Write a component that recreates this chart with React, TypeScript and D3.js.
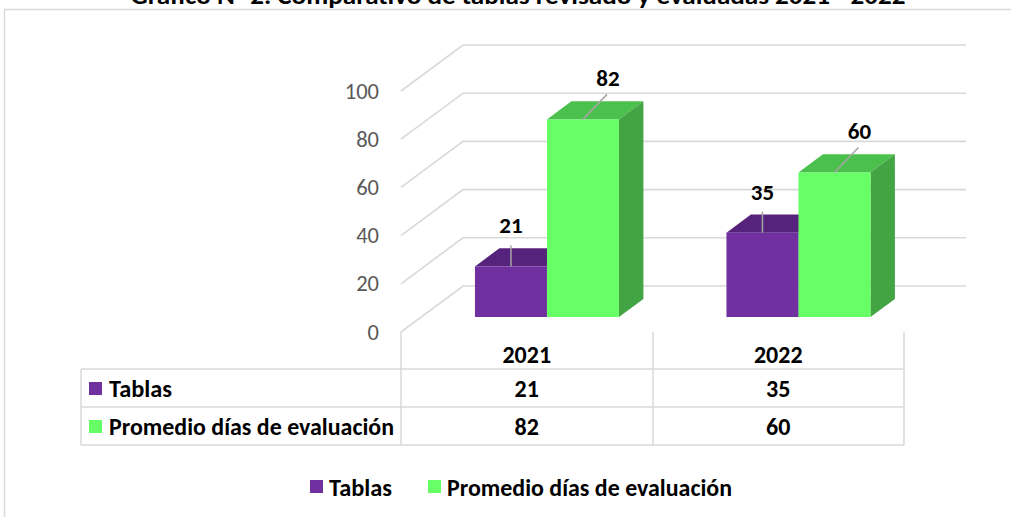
import React from "react";
import * as d3 from "d3";

const categories = ["2021", "2022"];
const seriesNames = ["Tablas", "Promedio días de evaluación"];
const tablas = [21, 35];
const promedio = [82, 60];
const yTicks = [0, 20, 40, 60, 80, 100];
const title = "Gráfico N° 2. Comparativo de tablas revisado y evaluadas 2021 - 2022";

const FONT = "Carlito, Calibri, Lato, 'Open Sans', sans-serif";
const colors = {
  front: ["#7030A0", "#66FF66"],
  top: ["#55237C", "#4CC04C"],
  side: ["#4B1F6E", "#43A443"],
};
const grid = "#d9d9d9";
const labelWidths = [63, 285];

export default function App() {
  const W = 1011, H = 517;
  const x0 = 401, x1 = 904, base = 332;
  const DX = 62, DY = 46;
  const dFront = 0.326, dBack = 0.72;
  const y = d3.scaleLinear().domain([0, 100]).range([0, 241]);
  const xCat = d3.scaleBand().domain(categories).range([x0, x1]);
  const xSer = d3.scaleBand().domain(seriesNames).range([-72, 72]);
  const proj = (x: number, v: number, d: number): [number, number] => [x + d * DX, base - d * DY - y(v)];
  const pts = (a: [number, number][]) => a.map((p) => p.join(",")).join(" ");
  const series = [tablas, promedio];

  const rowTop = [332, 369, 407, 445];
  const colX = [81, 401, 653, 904];

  return (
    <svg width={W} height={H} style={{ position: "absolute", left: 0, top: 0, background: "#fff" }} fontFamily={FONT}>
      <rect x={4.5} y={9.5} width={1012} height={520} fill="#fff" stroke={grid} strokeWidth={1.5} />
      <text x={518} y={4} textAnchor="middle" fontWeight="bold" fontSize={24} fill="#000" textLength={775} lengthAdjust="spacingAndGlyphs">{title}</text>

      {/* gridlines */}
      {yTicks.map((v) => {
        const a = proj(x0, v, 0), b = proj(x0, v, 1), c = proj(x1, v, 1);
        return <polyline key={v} points={pts([a, b, c])} fill="none" stroke={grid} strokeWidth={1.6} />;
      })}
      {yTicks.map((v) => (
        <text key={"l" + v} x={379} y={base - y(v)} textAnchor="end" dominantBaseline="central" fontSize={22.5} fill="#595959">{v}</text>
      ))}

      {/* bars */}
      {categories.map((cat, ci) => {
        const cx = (xCat(cat) as number) + xCat.bandwidth() / 2;
        return (
          <g key={cat}>
            {seriesNames.map((s, si) => {
              const v = series[si][ci];
              const xl = cx + (xSer(s) as number), xr = xl + xSer.bandwidth();
              const fTL = proj(xl, v, dFront), fTR = proj(xr, v, dFront);
              const bTL = proj(xl, v, dBack), bTR = proj(xr, v, dBack);
              const fBR = proj(xr, 0, dFront), bBR = proj(xr, 0, dBack);
              const fBL = proj(xl, 0, dFront);
              return (
                <g key={s}>
                  <polygon points={pts([fTL, bTL, bTR, fTR])} fill={colors.top[si]} />
                  <polygon points={pts([fTR, bTR, bBR, fBR])} fill={colors.side[si]} />
                  <polygon points={pts([fTL, fTR, fBR, fBL])} fill={colors.front[si]} />
                </g>
              );
            })}
            {seriesNames.map((s, si) => {
              const v = series[si][ci];
              const xl = cx + (xSer(s) as number);
              const top = proj(xl + xSer.bandwidth() / 2, v, dFront);
              const ldx = si === 0 ? 0 : 24;
              const ldy = si === 0 ? -21 : -25;
              const tdx = si === 0 ? 0 : 25;
              return (
                <g key={"lab" + s}>
                  <line x1={top[0]} y1={top[1]} x2={top[0] + ldx} y2={top[1] + ldy} stroke="#a6a6a6" strokeWidth={1.5} />
                  <text x={top[0] + tdx} y={top[1] - 41} textAnchor="middle" dominantBaseline="central" fontWeight="bold" fontSize={23} fill="#000">{v}</text>
                </g>
              );
            })}
          </g>
        );
      })}

      {/* data table */}
      <g stroke={grid} strokeWidth={1.5}>
        {colX.map((x, i) => (
          <line key={"v" + i} x1={x} x2={x} y1={i === 0 ? rowTop[1] : rowTop[0]} y2={rowTop[3]} />
        ))}
        {rowTop.slice(1).map((yy, i) => (
          <line key={"h" + i} x1={colX[0]} x2={colX[3]} y1={yy} y2={yy} />
        ))}
      </g>
      {categories.map((cat) => {
        const cx = (xCat(cat) as number) + xCat.bandwidth() / 2;
        return <text key={"h" + cat} x={cx} y={(rowTop[0] + rowTop[1]) / 2 + 4} textAnchor="middle" dominantBaseline="central" fontWeight="bold" fontSize={24}>{cat}</text>;
      })}
      {seriesNames.map((s, si) => {
        const cy = (rowTop[si + 1] + rowTop[si + 2]) / 2;
        return (
          <g key={"row" + s}>
            <rect x={89} y={cy - 6} width={13} height={13} fill={colors.front[si]} />
            <text x={109} y={cy} dominantBaseline="central" fontWeight="bold" fontSize={24} textLength={labelWidths[si]} lengthAdjust="spacingAndGlyphs">{s}</text>
            {categories.map((cat, ci) => {
              const cx = (xCat(cat) as number) + xCat.bandwidth() / 2;
              return <text key={cat} x={cx} y={cy} textAnchor="middle" dominantBaseline="central" fontWeight="bold" fontSize={24}>{series[si][ci]}</text>;
            })}
          </g>
        );
      })}

      {/* legend */}
      <g>
        <rect x={310} y={480} width={13} height={13} fill={colors.front[0]} />
        <text x={329} y={487} dominantBaseline="central" fontWeight="bold" fontSize={24} textLength={labelWidths[0]} lengthAdjust="spacingAndGlyphs">{seriesNames[0]}</text>
        <rect x={428} y={480} width={13} height={13} fill={colors.front[1]} />
        <text x={447} y={487} dominantBaseline="central" fontWeight="bold" fontSize={24} textLength={labelWidths[1]} lengthAdjust="spacingAndGlyphs">{seriesNames[1]}</text>
      </g>
    </svg>
  );
}
